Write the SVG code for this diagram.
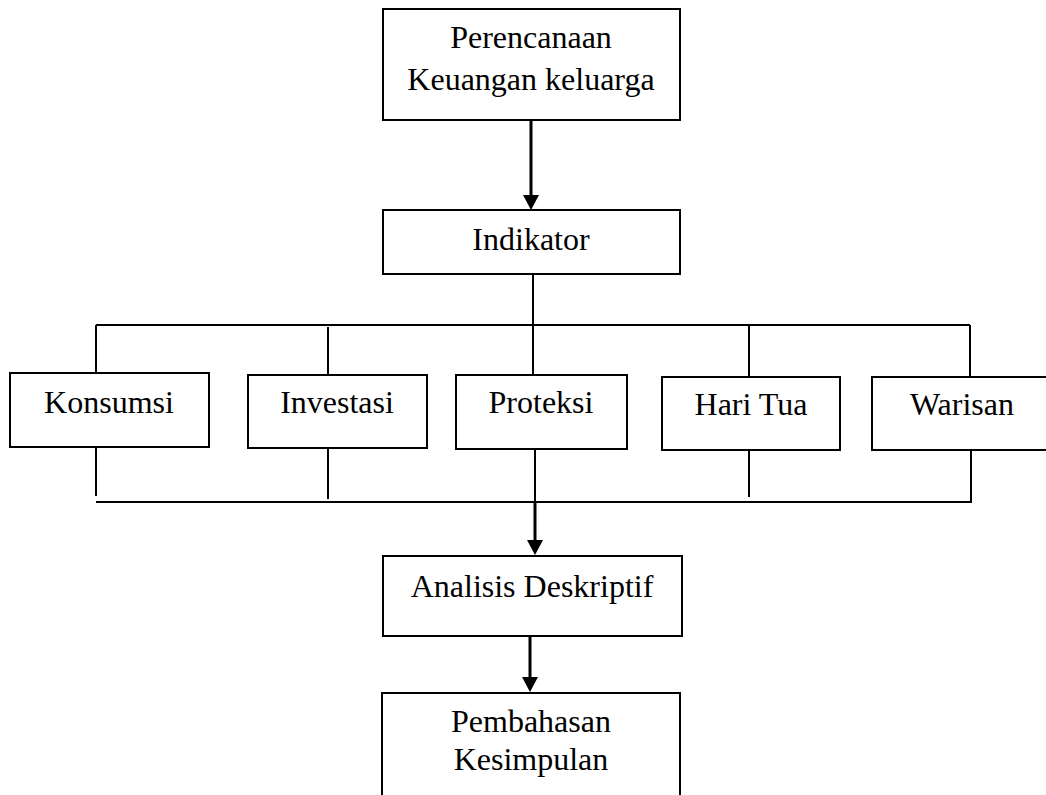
<svg xmlns="http://www.w3.org/2000/svg" width="1046" height="795" viewBox="0 0 1046 795">
<style>
.box{fill:#fff;stroke:#000;stroke-width:2}
.t{font-family:"Liberation Serif","Times New Roman",serif;font-size:32px;fill:#000;text-anchor:middle}
.c{fill:none;stroke:#000;stroke-width:2}
.a{fill:none;stroke:#000;stroke-width:3;marker-end:url(#ah)}
</style>
<defs>
<marker id="ah" markerUnits="userSpaceOnUse" viewBox="0 0 15 16" markerWidth="15" markerHeight="16" refX="0" refY="8" orient="auto">
<path d="M0,0 L15,8 L0,16 z" fill="#000"/>
</marker>
</defs>
<rect width="1046" height="795" fill="#fff"/>
<g id="connectors">
<path class="c" d="M533,274 V325"/>
<path class="c" d="M96,325 H970"/>
<path class="c" d="M96,325 V373 M328,327 V375 M533,325 V375 M749,325 V377 M970,325 V377"/>
<path class="c" d="M96,447 V496 M328,448 V499 M535,449 V502 M749,450 V497 M971,450 V502"/>
<path class="c" d="M96,502 H972"/>
<path class="a" d="M531,120 V195"/>
<path class="a" d="M535,502 V540"/>
<path class="a" d="M530,636 V677"/>
</g>
<g id="perencanaan">
<rect class="box" x="383" y="9" width="297" height="111"/>
<text class="t" x="531" y="48">Perencanaan</text>
<text class="t" x="531" y="90">Keuangan keluarga</text>
</g>
<g id="indikator">
<rect class="box" x="383" y="210" width="297" height="64"/>
<text class="t" x="531" y="250">Indikator</text>
</g>
<g id="konsumsi">
<rect class="box" x="10" y="373" width="199" height="74"/>
<text class="t" x="109" y="413">Konsumsi</text>
</g>
<g id="investasi">
<rect class="box" x="248" y="375" width="179" height="73"/>
<text class="t" x="337" y="413">Investasi</text>
</g>
<g id="proteksi">
<rect class="box" x="456" y="375" width="171" height="74"/>
<text class="t" x="541" y="413">Proteksi</text>
</g>
<g id="haritua">
<rect class="box" x="662" y="377" width="178" height="73"/>
<text class="t" x="751" y="415">Hari Tua</text>
</g>
<g id="warisan">
<rect class="box" x="872" y="377" width="180" height="73"/>
<text class="t" x="962" y="415">Warisan</text>
</g>
<g id="analisis">
<rect class="box" x="383" y="556" width="299" height="80"/>
<text class="t" x="532" y="597">Analisis Deskriptif</text>
</g>
<g id="pembahasan">
<rect class="box" x="382" y="693" width="298" height="110"/>
<text class="t" x="531" y="732">Pembahasan</text>
<text class="t" x="531" y="770">Kesimpulan</text>
</g>
</svg>
